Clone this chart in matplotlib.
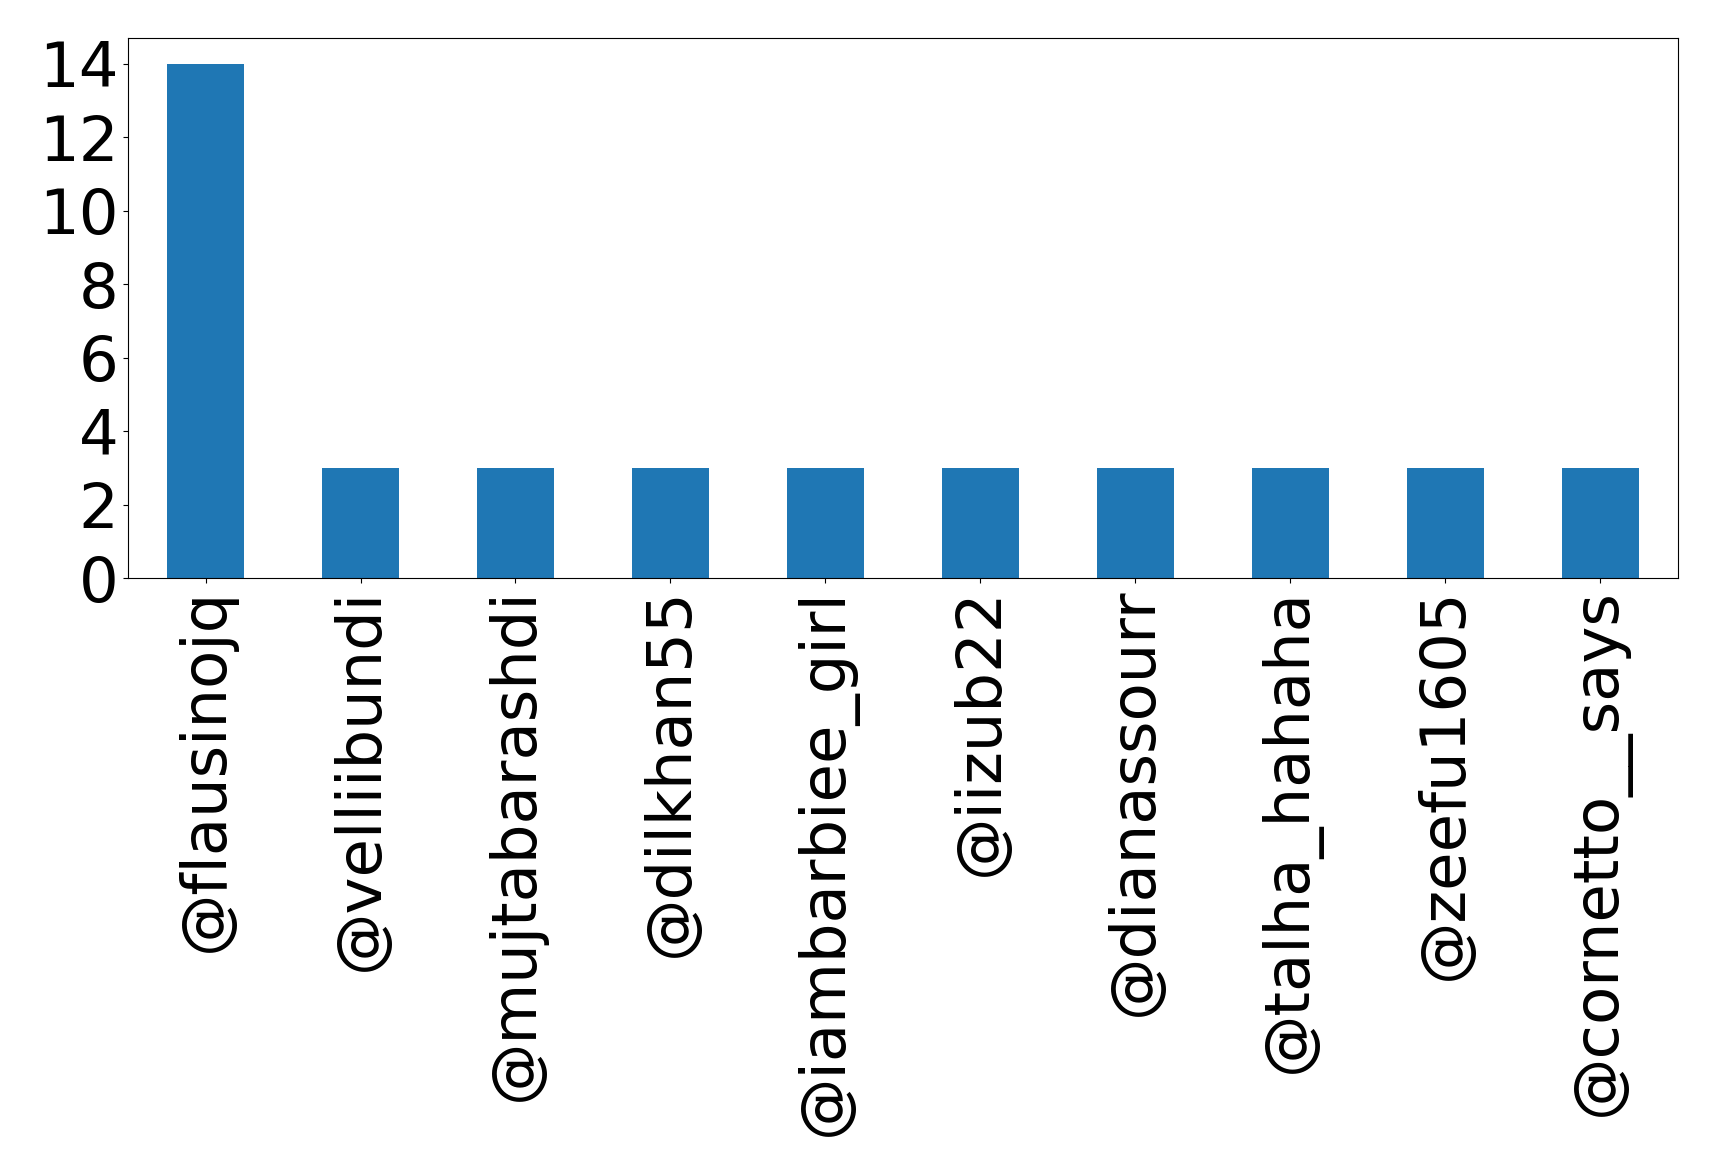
import matplotlib
matplotlib.use("Agg")
import matplotlib.pyplot as plt

# --- data ---
users = ['@flausinojq', '@velliibundi', '@mujtabarashdi', '@dilkhan55',
         '@iambarbiee_girl', '@iizub22', '@dianassourr', '@talha_hahaha',
         '@zeefu1605', '@cornetto__says']
counts = [14, 3, 3, 3, 3, 3, 3, 3, 3, 3]

# --- plot ---
fig = plt.figure(figsize=(17.19, 11.76), dpi=100)
ax = fig.add_axes([0.0745, 0.5085, 0.9015, 0.4592])

x = range(len(users))
ax.bar(x, counts, width=0.5, color='#1f77b4')
ax.set_xlim(-0.5, len(users) - 0.5)
ax.set_ylim(0, 14.7)
ax.set_xticks(list(x))
ax.set_xticklabels(users, rotation=90, fontsize=45)
ax.set_yticks(range(0, 15, 2))
ax.tick_params(axis='y', labelsize=45)

fig.savefig("out.png", dpi=100)
